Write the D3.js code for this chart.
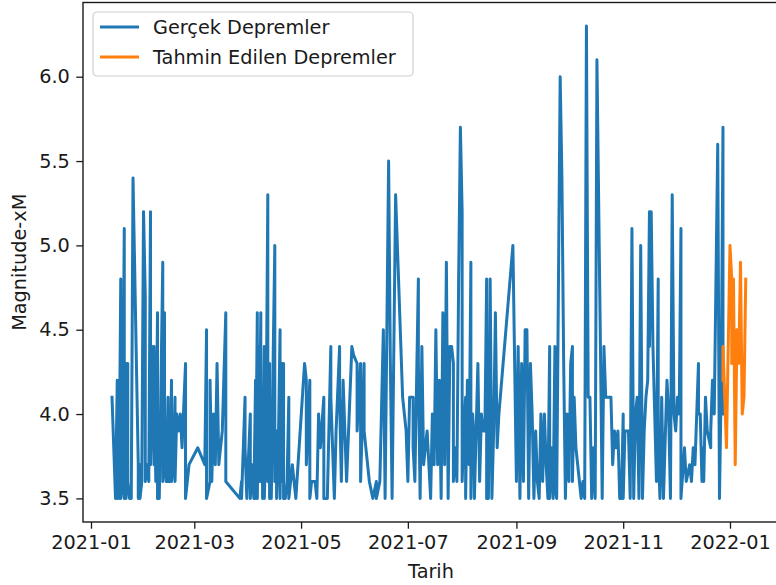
<!DOCTYPE html>
<html lang="tr">

<head>
    <meta charset="UTF-8">
    <meta name="viewport" content="width=device-width, initial-scale=1.0">
    <script src="https://cdnjs.cloudflare.com/ajax/libs/d3/7.9.0/d3.min.js"></script>
    <title>Deprem tahmini</title>
    <style>
        body {
            margin: 0;
            background-color: white;
            font-family: "DejaVu Sans", sans-serif;
        }

        svg {
            display: block;
        }

        text {
            fill: #1a1a1a;
        }
    </style>
</head>

<body>
    <div id="chart"></div>

    <script>
        const width = 776;
        const height = 585;
        const plot = { left: 83, right: 779, top: 2.5, bottom: 522 };
        const fontSize = 19.3;

        // Gerçek depremler (tarih, büyüklük)
        const actualQuakes = [
            ["2021-01-13", 4.1], ["2021-01-14", 3.8], ["2021-01-15", 3.5], ["2021-01-16", 4.2], ["2021-01-16", 3.5],
            ["2021-01-17", 4.2], ["2021-01-17", 3.5], ["2021-01-18", 4.8], ["2021-01-18", 3.5], ["2021-01-19", 3.6],
            ["2021-01-20", 5.1], ["2021-01-20", 3.5], ["2021-01-21", 4.3], ["2021-01-21", 3.5], ["2021-01-22", 4.3],
            ["2021-01-22", 3.6], ["2021-01-23", 3.5], ["2021-01-24", 3.5], ["2021-01-25", 5.4], ["2021-01-28", 3.7],
            ["2021-01-28", 3.5], ["2021-01-29", 3.7], ["2021-01-29", 3.5], ["2021-01-30", 3.6], ["2021-01-31", 5.2],
            ["2021-02-01", 4.7], ["2021-02-01", 3.6], ["2021-02-02", 3.7], ["2021-02-03", 3.6], ["2021-02-04", 5.2],
            ["2021-02-04", 3.7], ["2021-02-05", 4.4], ["2021-02-06", 3.7], ["2021-02-06", 4.4], ["2021-02-07", 3.6],
            ["2021-02-08", 4.6], ["2021-02-08", 3.5], ["2021-02-09", 3.5], ["2021-02-10", 4.2], ["2021-02-11", 4.9],
            ["2021-02-11", 3.6], ["2021-02-12", 4.6], ["2021-02-12", 3.7], ["2021-02-13", 3.6], ["2021-02-14", 4.1],
            ["2021-02-14", 3.6], ["2021-02-15", 3.6], ["2021-02-16", 4.2], ["2021-02-16", 3.6], ["2021-02-17", 3.7],
            ["2021-02-18", 4.1], ["2021-02-18", 3.6], ["2021-02-19", 4.0], ["2021-02-20", 3.9], ["2021-02-21", 4.0],
            ["2021-02-22", 3.8], ["2021-02-24", 4.3], ["2021-02-24", 3.5], ["2021-02-25", 3.6], ["2021-02-26", 3.7],
            ["2021-03-03", 3.8], ["2021-03-07", 3.7], ["2021-03-08", 4.5], ["2021-03-08", 3.5], ["2021-03-10", 3.6],
            ["2021-03-10", 4.2], ["2021-03-11", 3.6], ["2021-03-12", 4.0], ["2021-03-13", 3.7], ["2021-03-14", 4.3],
            ["2021-03-15", 3.7], ["2021-03-17", 3.9], ["2021-03-19", 4.6], ["2021-03-19", 3.6], ["2021-03-27", 3.5],
            ["2021-03-28", 3.6], ["2021-03-28", 3.5], ["2021-03-30", 4.1], ["2021-03-30", 3.8], ["2021-03-31", 3.5],
            ["2021-04-02", 4.0], ["2021-04-02", 3.5], ["2021-04-03", 3.7], ["2021-04-04", 3.5], ["2021-04-05", 4.2],
            ["2021-04-05", 3.5], ["2021-04-06", 4.6], ["2021-04-06", 3.5], ["2021-04-07", 4.4], ["2021-04-07", 3.6],
            ["2021-04-08", 4.6], ["2021-04-08", 3.6], ["2021-04-09", 4.0], ["2021-04-09", 3.5], ["2021-04-10", 4.4],
            ["2021-04-10", 3.5], ["2021-04-11", 3.9], ["2021-04-12", 5.3], ["2021-04-12", 3.6], ["2021-04-13", 4.3],
            ["2021-04-13", 3.5], ["2021-04-14", 3.9], ["2021-04-14", 3.5], ["2021-04-15", 4.3], ["2021-04-16", 5.0],
            ["2021-04-16", 3.6], ["2021-04-17", 3.9], ["2021-04-17", 3.5], ["2021-04-18", 3.8], ["2021-04-19", 4.5],
            ["2021-04-19", 3.5], ["2021-04-20", 4.3], ["2021-04-20", 3.6], ["2021-04-21", 4.3], ["2021-04-21", 3.5],
            ["2021-04-22", 3.5], ["2021-04-23", 3.6], ["2021-04-24", 4.1], ["2021-04-24", 3.5], ["2021-04-26", 3.7],
            ["2021-04-28", 3.5], ["2021-05-03", 4.3], ["2021-05-04", 4.2], ["2021-05-04", 3.7], ["2021-05-06", 4.2],
            ["2021-05-06", 3.5], ["2021-05-07", 3.6], ["2021-05-09", 3.6], ["2021-05-10", 3.5], ["2021-05-11", 4.0],
            ["2021-05-12", 3.8], ["2021-05-14", 4.1], ["2021-05-14", 3.5], ["2021-05-16", 3.5], ["2021-05-18", 4.4],
            ["2021-05-18", 4.1], ["2021-05-20", 3.5], ["2021-05-21", 3.9], ["2021-05-23", 4.4], ["2021-05-23", 4.1],
            ["2021-05-24", 3.6], ["2021-05-25", 4.2], ["2021-05-27", 3.6], ["2021-05-30", 4.4], ["2021-05-31", 4.35],
            ["2021-06-02", 4.3], ["2021-06-02", 3.9], ["2021-06-04", 4.3], ["2021-06-04", 3.6], ["2021-06-06", 4.3],
            ["2021-06-06", 3.9], ["2021-06-09", 3.6], ["2021-06-11", 3.5], ["2021-06-13", 3.6], ["2021-06-13", 3.5],
            ["2021-06-15", 3.6], ["2021-06-17", 4.5], ["2021-06-18", 3.5], ["2021-06-20", 5.5], ["2021-06-21", 4.3],
            ["2021-06-22", 3.5], ["2021-06-24", 5.3], ["2021-06-28", 4.1], ["2021-06-30", 3.9], ["2021-07-01", 3.6],
            ["2021-07-02", 4.1], ["2021-07-04", 4.1], ["2021-07-04", 3.8], ["2021-07-05", 3.6], ["2021-07-07", 4.8],
            ["2021-07-07", 4.3], ["2021-07-08", 3.5], ["2021-07-09", 4.4], ["2021-07-10", 3.7], ["2021-07-12", 3.9],
            ["2021-07-14", 3.5], ["2021-07-15", 4.0], ["2021-07-16", 3.7], ["2021-07-17", 4.5], ["2021-07-18", 3.7],
            ["2021-07-19", 4.2], ["2021-07-20", 3.5], ["2021-07-21", 4.6], ["2021-07-22", 3.7], ["2021-07-23", 4.9],
            ["2021-07-24", 3.5], ["2021-07-25", 4.4], ["2021-07-26", 4.4], ["2021-07-27", 4.3], ["2021-07-27", 3.6],
            ["2021-07-28", 3.8], ["2021-07-29", 3.6], ["2021-07-30", 4.8], ["2021-07-31", 5.7], ["2021-08-01", 5.2],
            ["2021-08-01", 3.6], ["2021-08-02", 3.9], ["2021-08-03", 4.1], ["2021-08-03", 3.5], ["2021-08-04", 4.2],
            ["2021-08-05", 3.7], ["2021-08-06", 4.9], ["2021-08-06", 3.5], ["2021-08-07", 4.0], ["2021-08-08", 3.8],
            ["2021-08-08", 3.5], ["2021-08-09", 3.9], ["2021-08-10", 4.3], ["2021-08-11", 3.6], ["2021-08-12", 4.0],
            ["2021-08-13", 3.9], ["2021-08-14", 3.9], ["2021-08-15", 4.8], ["2021-08-15", 3.5], ["2021-08-16", 3.5],
            ["2021-08-17", 4.8], ["2021-08-18", 3.5], ["2021-08-19", 3.9], ["2021-08-20", 4.6], ["2021-08-21", 3.8],
            ["2021-08-22", 4.0], ["2021-08-30", 5.0], ["2021-09-01", 3.6], ["2021-09-02", 4.4], ["2021-09-03", 3.5],
            ["2021-09-04", 4.3], ["2021-09-05", 3.6], ["2021-09-06", 4.5], ["2021-09-07", 4.5], ["2021-09-08", 3.5],
            ["2021-09-09", 4.3], ["2021-09-10", 4.0], ["2021-09-11", 3.5], ["2021-09-12", 3.9], ["2021-09-13", 3.6],
            ["2021-09-14", 3.5], ["2021-09-15", 4.0], ["2021-09-16", 3.6], ["2021-09-17", 4.0], ["2021-09-18", 3.7],
            ["2021-09-19", 3.5], ["2021-09-20", 4.4], ["2021-09-20", 3.5], ["2021-09-21", 3.8], ["2021-09-22", 3.5],
            ["2021-09-23", 4.4], ["2021-09-23", 3.6], ["2021-09-24", 3.5], ["2021-09-26", 6.0], ["2021-09-27", 5.4],
            ["2021-09-28", 4.3], ["2021-09-29", 3.5], ["2021-09-30", 4.0], ["2021-10-01", 3.6], ["2021-10-02", 4.3],
            ["2021-10-03", 4.4], ["2021-10-03", 3.6], ["2021-10-04", 4.1], ["2021-10-05", 3.8], ["2021-10-07", 3.6],
            ["2021-10-08", 3.5], ["2021-10-09", 3.6], ["2021-10-10", 3.5], ["2021-10-11", 6.3], ["2021-10-12", 4.1],
            ["2021-10-13", 4.1], ["2021-10-14", 3.5], ["2021-10-15", 3.8], ["2021-10-16", 3.5], ["2021-10-17", 6.1],
            ["2021-10-19", 4.4], ["2021-10-20", 3.5], ["2021-10-21", 4.4], ["2021-10-22", 4.1], ["2021-10-25", 4.1],
            ["2021-10-26", 3.7], ["2021-10-27", 3.9], ["2021-10-28", 3.8], ["2021-10-29", 3.9], ["2021-10-30", 3.5],
            ["2021-10-31", 3.5], ["2021-11-01", 4.0], ["2021-11-01", 3.5], ["2021-11-02", 3.9], ["2021-11-04", 3.9],
            ["2021-11-05", 3.5], ["2021-11-06", 5.1], ["2021-11-07", 3.5], ["2021-11-08", 4.0], ["2021-11-09", 4.1],
            ["2021-11-10", 3.5], ["2021-11-11", 5.0], ["2021-11-12", 3.5], ["2021-11-13", 3.9], ["2021-11-14", 4.1],
            ["2021-11-15", 4.2], ["2021-11-16", 5.2], ["2021-11-16", 4.4], ["2021-11-17", 5.2], ["2021-11-18", 4.4],
            ["2021-11-20", 3.6], ["2021-11-21", 4.8], ["2021-11-21", 3.8], ["2021-11-22", 3.5], ["2021-11-23", 4.1],
            ["2021-11-24", 3.5], ["2021-11-26", 4.2], ["2021-11-27", 4.0], ["2021-11-28", 3.5], ["2021-11-29", 5.3],
            ["2021-11-30", 4.0], ["2021-12-01", 3.9], ["2021-12-02", 4.1], ["2021-12-03", 4.0], ["2021-12-04", 5.1],
            ["2021-12-04", 3.5], ["2021-12-06", 3.8], ["2021-12-07", 3.6], ["2021-12-09", 3.7], ["2021-12-10", 3.6],
            ["2021-12-11", 3.8], ["2021-12-12", 3.7], ["2021-12-14", 4.3], ["2021-12-14", 4.0], ["2021-12-15", 4.0],
            ["2021-12-16", 3.6], ["2021-12-17", 3.8], ["2021-12-17", 3.6], ["2021-12-18", 4.1], ["2021-12-19", 3.9],
            ["2021-12-21", 3.8], ["2021-12-21", 3.9], ["2021-12-22", 4.2], ["2021-12-23", 4.0], ["2021-12-25", 5.6],
            ["2021-12-26", 3.5], ["2021-12-27", 4.2], ["2021-12-28", 5.7], ["2021-12-28", 4.0]
        ];

        // Tahmin edilen depremler
        const predictedQuakes = [
            ["2021-12-28", 4.2], ["2021-12-28", 4.4], ["2021-12-30", 3.8], ["2022-01-01", 5.0], ["2022-01-02", 4.8],
            ["2022-01-02", 4.3], ["2022-01-03", 4.8], ["2022-01-04", 3.7], ["2022-01-05", 4.5], ["2022-01-06", 4.3],
            ["2022-01-07", 4.9], ["2022-01-08", 4.0], ["2022-01-09", 4.1], ["2022-01-10", 4.8]
        ];

        const yTicks = [3.5, 4.0, 4.5, 5.0, 5.5, 6.0];
        const xTicks = ["2021-01-01", "2021-03-01", "2021-05-01", "2021-07-01", "2021-09-01", "2021-11-01", "2022-01-01"];
        const xDomain = ["2020-12-27T10:20", "2022-01-29T00:00"];
        const series = [
            { name: "Gerçek Depremler", color: "#1f77b4", data: actualQuakes },
            { name: "Tahmin Edilen Depremler", color: "#ff7f0e", data: predictedQuakes }
        ];

        const parseDate = d3.utcParse("%Y-%m-%d");
        const parseStamp = d3.utcParse("%Y-%m-%dT%H:%M");
        const formatTick = d3.utcFormat("%Y-%m");

        const svg = d3.select("#chart")
            .append("svg")
            .attr("width", width)
            .attr("height", height)
            .style("font-family", "'DejaVu Sans', sans-serif")
            .style("font-size", fontSize + "px");

        const x = d3.scaleUtc()
            .domain(xDomain.map(parseStamp))
            .range([plot.left, plot.right]);

        // matplotlib style 5% margin on y
        const allPoints = actualQuakes.concat(predictedQuakes);
        const yExtent = d3.extent(allPoints, d => d[1]);
        const yPad = (yExtent[1] - yExtent[0]) * 0.05;
        const y = d3.scaleLinear()
            .domain([yExtent[0] - yPad, yExtent[1] + yPad])
            .range([plot.bottom, plot.top]);

        svg.append("clipPath")
            .attr("id", "plot-clip")
            .append("rect")
            .attr("x", plot.left)
            .attr("y", plot.top)
            .attr("width", plot.right - plot.left)
            .attr("height", plot.bottom - plot.top);

        // Lines
        const line = d3.line()
            .x(d => x(parseDate(d[0])))
            .y(d => y(d[1]));

        svg.append("g")
            .attr("clip-path", "url(#plot-clip)")
            .selectAll("path")
            .data(series)
            .enter()
            .append("path")
            .attr("d", d => line(d.data))
            .attr("fill", "none")
            .attr("stroke", d => d.color)
            .attr("stroke-width", 3)
            .attr("stroke-linejoin", "round")
            .attr("stroke-linecap", "square");

        // Axes
        const xAxis = d3.axisBottom(x)
            .tickValues(xTicks.map(parseDate))
            .tickFormat(formatTick)
            .tickSize(6.7)
            .tickPadding(6.5)
            .tickSizeOuter(0);

        const gx = svg.append("g")
            .attr("transform", `translate(0,${plot.bottom})`)
            .call(xAxis);

        const yAxis = d3.axisLeft(y)
            .tickValues(yTicks)
            .tickFormat(d3.format(".1f"))
            .tickSize(6.7)
            .tickPadding(6.5)
            .tickSizeOuter(0);

        const gy = svg.append("g")
            .attr("transform", `translate(${plot.left},0)`)
            .call(yAxis);

        [gx, gy].forEach(g => {
            g.attr("font-family", null).attr("font-size", null);
            g.select(".domain").remove();
            g.selectAll(".tick line").attr("stroke", "#1a1a1a").attr("stroke-width", 1.3);
            g.selectAll(".tick text").attr("fill", "#1a1a1a");
        });

        // Spines
        svg.append("rect")
            .attr("x", plot.left)
            .attr("y", plot.top)
            .attr("width", plot.right - plot.left)
            .attr("height", plot.bottom - plot.top)
            .attr("fill", "none")
            .attr("stroke", "#1a1a1a")
            .attr("stroke-width", 1.4);

        // Axis labels
        svg.append("text")
            .attr("x", (plot.left + plot.right) / 2)
            .attr("y", 578)
            .attr("text-anchor", "middle")
            .text("Tarih");

        svg.append("text")
            .attr("transform", `translate(26,${(plot.top + plot.bottom) / 2}) rotate(-90)`)
            .attr("text-anchor", "middle")
            .text("Magnitude-xM");

        // Legend
        const legend = svg.append("g")
            .attr("transform", "translate(93,12)");

        legend.append("rect")
            .attr("width", 320)
            .attr("height", 64)
            .attr("rx", 4)
            .attr("fill", "white")
            .attr("fill-opacity", 0.8)
            .attr("stroke", "#d0d0d0")
            .attr("stroke-width", 1.2);

        const rows = legend.selectAll(".legend-row")
            .data(series)
            .enter()
            .append("g")
            .attr("class", "legend-row")
            .attr("transform", (d, i) => `translate(0,${15 + i * 30})`);

        rows.append("line")
            .attr("x1", 7)
            .attr("x2", 46)
            .attr("stroke", d => d.color)
            .attr("stroke-width", 3);

        rows.append("text")
            .attr("x", 60)
            .attr("dy", "0.36em")
            .text(d => d.name);
    </script>

</body>

</html>
